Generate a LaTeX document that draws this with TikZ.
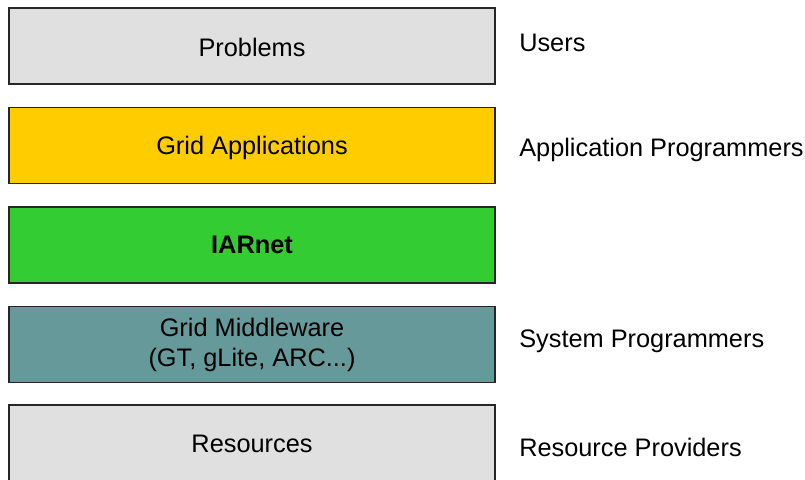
\documentclass[tikz,border=0pt]{standalone}
\usepackage{fontspec}
\setmainfont{Liberation Sans}
\definecolor{lgray}{HTML}{E0E0E0}
\definecolor{gold}{HTML}{FFCC00}
\definecolor{lgreen}{HTML}{33CC33}
\definecolor{teal}{HTML}{669999}
\begin{document}
\begin{tikzpicture}[x=0.75pt,y=-0.75pt,
  layer/.style={draw=black!85,line width=0.9pt,minimum width=486*0.75pt,minimum height=76*0.75pt,inner sep=0pt},
  txt/.style={inner sep=0pt,align=center,font=\fontsize{19}{22}\selectfont},
  role/.style={anchor=west,inner sep=0pt,font=\fontsize{19}{22}\selectfont}]
\useasboundingbox (0,0) rectangle (805,479);
\begin{scope}
\clip (0,0) rectangle (805,479);
\node[layer,fill=lgray] (prob) at (252,46) {};
\node[layer,fill=gold] (app) at (252,145.5) {};
\node[layer,fill=lgreen] (iar) at (252,245) {};
\node[layer,fill=teal] (mid) at (252,344.5) {};
\node[layer,fill=lgray,minimum height=80*0.75pt] (res) at (252,445) {};
\end{scope}
\node[txt] (probtext) at (252,47) {Problems};
\node[txt] (apptext) at (252,148) {Grid Applications};
\node[txt,font=\fontsize{19}{22}\selectfont\bfseries] (iartext) at (252,245) {IARnet};
\node[txt] (midtext) at (252,345) {Grid Middleware\\(GT, gLite, ARC...)};
\node[txt] (restext) at (252,444) {Resources};
\node[role] (users) at (519,43) {Users};
\node[role] (apprg) at (519,150) {Application Programmers};
\node[role] (sysprg) at (519,341) {System Programmers};
\node[role] (resprov) at (519,447) {Resource Providers};
\end{tikzpicture}
\end{document}
